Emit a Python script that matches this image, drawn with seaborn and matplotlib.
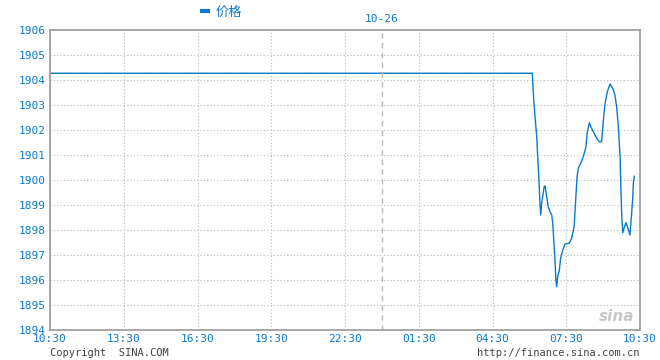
import matplotlib
matplotlib.use("Agg")
import matplotlib.pyplot as plt
from matplotlib.lines import Line2D
import pandas as pd
import seaborn as sns

# ─── Data (hours since 10:30, price) ───────────────────────────────
hours = [0.00, 19.62, 19.66, 19.73, 19.80, 19.84, 19.89, 19.93, 19.96, 20.00,
         20.04, 20.10, 20.14, 20.20, 20.27, 20.34, 20.41, 20.45, 20.50, 20.54,
         20.58, 20.61, 20.65, 20.72, 20.77, 20.86, 20.95, 21.12, 21.22, 21.32,
         21.36, 21.40, 21.44, 21.49, 21.59, 21.69, 21.79, 21.86, 21.94, 22.00,
         22.10, 22.24, 22.34, 22.44, 22.51, 22.58, 22.67, 22.78, 22.89, 22.98,
         23.05, 23.12, 23.19, 23.22, 23.26, 23.30, 23.35, 23.43, 23.51, 23.59,
         23.66, 23.70, 23.73, 23.77]
price = [1904.27, 1904.27, 1903.47, 1902.53, 1901.73, 1900.93, 1900.00, 1899.07, 1898.60, 1899.07,
         1899.33, 1899.73, 1899.76, 1899.33, 1898.93, 1898.73, 1898.60, 1898.27, 1897.47, 1896.80,
         1896.00, 1895.73, 1896.13, 1896.40, 1896.87, 1897.20, 1897.44, 1897.47, 1897.67, 1898.13,
         1898.80, 1899.47, 1900.13, 1900.47, 1900.67, 1900.93, 1901.27, 1901.93, 1902.29, 1902.13,
         1901.93, 1901.67, 1901.53, 1901.53, 1902.40, 1903.07, 1903.53, 1903.84, 1903.67, 1903.40,
         1902.93, 1902.13, 1900.93, 1899.73, 1898.53, 1897.89, 1898.07, 1898.29, 1898.07, 1897.80,
         1898.67, 1899.20, 1899.87, 1900.16]

x_ticks = [0, 3, 6, 9, 12, 15, 18, 21, 24]
x_labels = ["10:30", "13:30", "16:30", "19:30", "22:30", "01:30", "04:30", "07:30", "10:30"]
y_ticks = list(range(1894, 1907))
midnight = 13.5

BLUE = "#0a7ac8"
GRID = "#b8b8b8"
FRAME = "#999999"

df = pd.DataFrame({"hours": hours, "price": price})

sns.set_style("white")
plt.rcParams["font.family"] = ["DejaVu Sans Mono", "Noto Sans CJK SC"]

fig = plt.figure(figsize=(6.6, 3.6), dpi=100)
ax = fig.add_axes([50 / 660, 30 / 360, 590 / 660, 300 / 360])

sns.lineplot(data=df, x="hours", y="price", color=BLUE, linewidth=1.0, ax=ax)

ax.set_xlim(0, 24)
ax.set_ylim(1894, 1906)
ax.set_xticks(x_ticks)
ax.set_xticklabels(x_labels)
ax.set_yticks(y_ticks)
ax.tick_params(length=0, labelsize=8, labelcolor=BLUE, pad=3)
ax.set_xlabel("")
ax.set_ylabel("")
ax.grid(True, linestyle=(0, (1, 2)), color=GRID, linewidth=0.8)
for s in ax.spines.values():
    s.set_color(FRAME)
    s.set_linewidth(1.2)

ax.axvline(midnight, color="#bbbbbb", linestyle=(0, (4, 3)), linewidth=1.0)
ax.text(midnight, 1906.25, "10-26", color=BLUE, fontsize=8, ha="center", va="bottom")

# legend
fig.add_artist(Line2D([200 / 660, 210 / 660], [1 - 11 / 360, 1 - 11 / 360],
                      color=BLUE, linewidth=3, solid_capstyle="butt"))
fig.text(216 / 660, 1 - 12 / 360, "价格", color=BLUE, fontsize=9.5, ha="left", va="center",
         family=["Noto Sans CJK SC", "DejaVu Sans"])

# footer
fig.text(50 / 660, 1 - 353 / 360, "Copyright  SINA.COM", color="#444444", fontsize=7.5,
         ha="left", va="center")
fig.text(640 / 660, 1 - 353 / 360, "http://finance.sina.com.cn", color="#444444", fontsize=7.5,
         ha="right", va="center")
ax.text(0.99, 0.02, "sina", transform=ax.transAxes, color="#c8c8c8", fontsize=11,
        fontstyle="italic", fontweight="bold", ha="right", va="bottom", family=["DejaVu Sans"])

fig.savefig("out.png", dpi=100)
